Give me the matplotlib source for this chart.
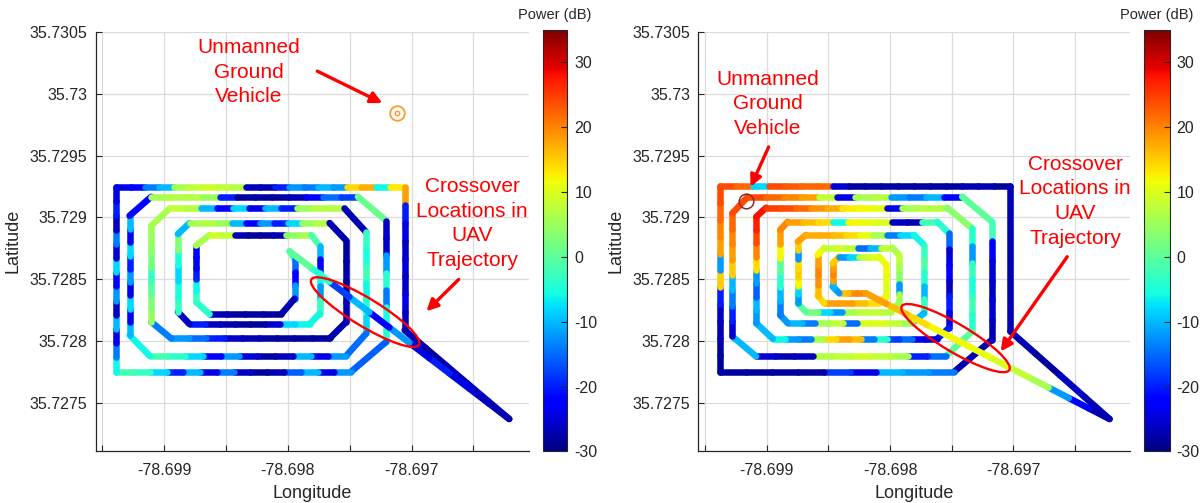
import numpy as np
import matplotlib.pyplot as plt
from matplotlib.collections import LineCollection
from matplotlib.patches import Ellipse
from matplotlib import transforms

plt.rcParams['font.family'] = ['Liberation Sans', 'DejaVu Sans']
plt.rcParams['axes.unicode_minus'] = False

# ---- UAV trajectory, first flight (waypoints in flight order) ----
lon_a = [-78.697987, -78.697946, -78.697946, -78.698054, -78.698634, -78.698742,
         -78.698742, -78.698634, -78.697811, -78.697744, -78.697744, -78.697825,
         -78.698796, -78.698890, -78.698890, -78.698796, -78.697663, -78.697528,
         -78.697528, -78.697663, -78.698944, -78.699106, -78.699106, -78.698957,
         -78.697542, -78.697366, -78.697366, -78.697528, -78.699119, -78.699281,
         -78.699281, -78.699106, -78.697434, -78.697204, -78.697204, -78.697488,
         -78.699389, -78.699389, -78.697056, -78.697056, -78.696210, -78.697987]
lat_a = [35.728726, 35.728665, 35.728343, 35.728217, 35.728217, 35.728316,
         35.728772, 35.728857, 35.728857, 35.728772, 35.728222, 35.728137,
         35.728137, 35.728236, 35.728865, 35.728954, 35.728954, 35.728812,
         35.728155, 35.728021, 35.728021, 35.728155, 35.728932, 35.729072,
         35.729072, 35.728879, 35.728062, 35.727882, 35.727882, 35.728048,
         35.729013, 35.729166, 35.729166, 35.728973, 35.727995, 35.727753,
         35.727753, 35.729246, 35.729246, 35.728088, 35.727370, 35.728726]
# received power (dB) along each leg, in flight direction
pow_a = [[-2], [-15, -22, -12], [-27], [-28, -28, -28, -27], [-4],
         [-3, -6, -20, -24, -22], [6], [9, 8, -27, -28, -28, -27, 4, 6], [-1],
         [-10, -22, -6, -12, -3], [-6], [-6, -8, -25, -28, -28, -27, -26, -20],
         [-26], [-3, -5, -8, -5, 3], [-10], [6, 7, 5, -10, -22, -12, -20, -8, 5, 7],
         [-27], [-28, -28, -28, -27], [-27],
         [-28, -28, -28, -28, -27, -26, -20, -15, -12], [-14],
         [5, 3, 0, -3, 2, 4, 5], [6], [8, 7, -10, -22, -8, -24, -10, -20, 5, 7, 7],
         [-27], [-3, -5, -2, -6, -4, -8], [-15],
         [-12, -24, -10, -26, -28, -25, -12, -22, -8, -4, -2], [-6],
         [-10, -22, -8, -24, -12, -20, -8, -22, -10], [-22],
         [6, 7, 7, 5, -20, -28, -28, -28, -27, -22, -15, -18], [1],
         [-26, -26, -12, -4, -14, -5, -4], [-16],
         [-12, -24, -10, -16, -27, -28, -26, -14, -24, -10, -20, -8, -3, -2],
         [-6, -14, -24, -10, -26, -12, -22, -8, -25, -14, -26, -20, -24],
         [-24, -22, -14, -10, 6, 8, 9, 8, 7, -26, -27, -20, -12, -14, -10, -12, 14, 17, -6, 13],
         [18, -20, -24, -26, -25, -26, -24, -26], [-27, -28, -27, -26, -28],
         [-27, -26, -24, -20, -24, -12, -22, -10, -18, -4, 0]]

# ---- UAV trajectory, second flight ----
lon_b = [-78.698197, -78.698412, -78.698466, -78.698466, -78.698412, -78.698089,
         -78.698035, -78.698035, -78.698089, -78.698534, -78.698588, -78.698588,
         -78.698534, -78.697981, -78.697927, -78.697927, -78.697995, -78.698682,
         -78.698749, -78.698749, -78.698682, -78.697806, -78.697725, -78.697725,
         -78.697819, -78.698830, -78.698892, -78.698892, -78.698830, -78.697617,
         -78.697523, -78.697523, -78.697617, -78.698951, -78.699086, -78.699086,
         -78.699005, -78.697536, -78.697334, -78.697334, -78.697550, -78.699086,
         -78.699280, -78.699280, -78.699154, -78.697415, -78.697173, -78.697173,
         -78.697482, -78.699377, -78.699377, -78.697024, -78.697024, -78.696220,
         -78.698197]
lat_b = [35.728387, 35.728387, 35.728441, 35.728629, 35.728683, 35.728683,
         35.728621, 35.728360, 35.728306, 35.728306, 35.728368, 35.728696,
         35.728755, 35.728755, 35.728696, 35.728306, 35.728234, 35.728234,
         35.728306, 35.728804, 35.728858, 35.728858, 35.728777, 35.728226,
         35.728145, 35.728145, 35.728212, 35.728898, 35.728965, 35.728965,
         35.728871, 35.728105, 35.728019, 35.728019, 35.728145, 35.729005,
         35.729078, 35.729078, 35.728911, 35.728078, 35.727876, 35.727876,
         35.728038, 35.729032, 35.729167, 35.729167, 35.728965, 35.728011,
         35.727750, 35.727750, 35.729255, 35.729255, 35.728078, 35.727370,
         35.728387]
pow_b = [[20, 20, 16], [-12], [-10, 18, 20, 18], [15], [-12, -8, 8, 10], [11],
         [12, 11, 10], [12], [14, 16, 18, 18], [14], [16, 19, 20, 18], [12],
         [8, 9, 8, -15, -10, 8], [6], [8, 6, 4, -12, 6], [5],
         [7, 8, 8, 6, -12, -8, 2], [0], [-12, -8, 12, 15, 14, -12, 15], [18],
         [17, 17, 16, 14, 11, 6, -14, -8], [-6], [-3, -1, -4, -10, -3], [-10],
         [5, 8, 10, 10, -15, 8, 6, -14, -10], [-12], [-14, -10, -4, 0, 12, 18],
         [20], [18, 16, 14, -6, 12, 11, 10, -26, -27, -2], [-4],
         [-15, -25, -22, -26, -20, -24], [-20],
         [-25, -24, -15, -18, -4, -14, 16, 18, 14, 6, -14, -12, -6], [-10],
         [-12, -10, -16, -12, 14, 20, 24, 27], [28],
         [25, 24, 22, 19, 17, 13, 12, 11, -24, 6, 7, 7], [4],
         [-4, -12, -3, -5, -2, -4], [0], [-15, -20, 6, 8, 9, 8, 7, -26, -27, -25],
         [-10], [-25, -20, -14, -10, 15, 18, 20, 22], [24],
         [24, 22, 20, 18, 8, -24, 6, 7, -12, -14, -10, -22], [0],
         [-2, -22, -25, -26, -25, -27], [-27], [-14, -12, -10, -24, -18, -28, -28, -28, -28],
         [-28, -28, -27, -26, -20, 15, -12, 18, 20, 22, 24],
         [24, 22, -8, 24, 23, 22, 22, -25, -28, -28, -28, -28, -28, -28, -28, -27, -27, -28],
         [-27], [-27, -28, -26, -27], [-27, -22, -12, 6, 8, 10, 11, 12, 12, 14, 16, 18]]

# ground vehicle positions
ugv_a = (-78.697118, 35.729843)
ugv_b = (-78.699172, 35.729132)

x_ticks = [-78.6995, -78.699, -78.6985, -78.698, -78.6975, -78.697, -78.6965]
x_labels = ['', '-78.699', '', '-78.698', '', '-78.697', '']
y_ticks = [35.7275, 35.728, 35.7285, 35.729, 35.7295, 35.73, 35.7305]
y_labels = ['35.7275', '35.728', '35.7285', '35.729', '35.7295', '35.73', '35.7305']
cb_ticks = [-30, -20, -10, 0, 10, 20, 30]

# annotation anchors (data coords)
ann_a = {'ugv_txt': (-78.698318, 35.730174), 'ugv_tail': (-78.697763, 35.730182),
         'ugv_head': (-78.697236, 35.729924), 'x_txt': (-78.696509, 35.728951),
         'x_tail': (-78.696619, 35.728498), 'x_head': (-78.696880, 35.728241),
         'ell': (-78.697375, 35.728234)}
ann_b = {'ugv_txt': (-78.698992, 35.729918), 'ugv_tail': (-78.698985, 35.729569),
         'ugv_head': (-78.699131, 35.729247), 'x_txt': (-78.696499, 35.729131),
         'x_tail': (-78.696563, 35.728682), 'x_head': (-78.697103, 35.727916),
         'ell': (-78.697469, 35.728024)}

dark = '#262626'
norm = plt.Normalize(-30, 35)


def draw_track(ax, lon, lat, powers):
    segs, vals = [], []
    for i, leg in enumerate(powers):
        x0, y0, x1, y1 = lon[i], lat[i], lon[i + 1], lat[i + 1]
        n = len(leg)
        for k, v in enumerate(leg):
            t0, t1 = k / n, (k + 1) / n
            segs.append([(x0 + (x1 - x0) * t0, y0 + (y1 - y0) * t0),
                         (x0 + (x1 - x0) * t1, y0 + (y1 - y0) * t1)])
            vals.append(v)
    lc = LineCollection(segs, cmap='jet', norm=norm, linewidths=4.7,
                        capstyle='round', zorder=2)
    lc.set_array(np.array(vals, dtype=float))
    ax.add_collection(lc)
    return lc


def setup_axes(ax):
    ax.set_xlim(-78.699555, -78.69605)
    ax.set_ylim(35.727114, 35.7305)
    ax.set_xticks(x_ticks, x_labels)
    ax.set_yticks(y_ticks, y_labels)
    ax.tick_params(direction='in', length=4, width=0.8, colors=dark,
                   labelsize=11.5, pad=6)
    ax.tick_params(axis='x', pad=9)
    for s in ['top', 'right']:
        ax.spines[s].set_visible(False)
    for s in ['left', 'bottom']:
        ax.spines[s].set_color(dark)
        ax.spines[s].set_linewidth(0.9)
    ax.grid(True, color='0.86', lw=0.9)
    ax.set_axisbelow(True)
    ax.set_xlabel('Longitude', fontsize=13, color=dark, va='center')
    ax.set_ylabel('Latitude', fontsize=13, color=dark, va='center')
    ax.xaxis.set_label_coords(0.5, -0.103)
    ax.yaxis.set_label_coords(-0.19, 0.5)


def annotate(fig, ax, ann, ell_w, ell_h, ell_ang):
    ax.text(*ann['ugv_txt'], 'Unmanned\nGround\nVehicle', color='red', fontsize=15,
            ha='center', va='center', linespacing=1.38, zorder=5)
    ax.text(*ann['x_txt'], 'Crossover\nLocations in\nUAV\nTrajectory', color='red',
            fontsize=15, ha='center', va='center', linespacing=1.38, zorder=5,
            clip_on=False)
    for key in ['ugv', 'x']:
        ax.annotate('', xy=ann[key + '_head'], xytext=ann[key + '_tail'],
                    arrowprops=dict(arrowstyle='-|>', color='red', lw=2.4,
                                    mutation_scale=17, shrinkA=0, shrinkB=0),
                    zorder=5)
    tr = fig.dpi_scale_trans + transforms.ScaledTranslation(*ann['ell'], ax.transData)
    ax.add_patch(Ellipse((0, 0), ell_w, ell_h, angle=ell_ang, transform=tr,
                         fill=False, ec='red', lw=1.7, zorder=6, clip_on=False))


def colorbar(fig, lc, rect):
    cax = fig.add_axes(rect)
    cb = fig.colorbar(lc, cax=cax, ticks=cb_ticks)
    cb.ax.tick_params(direction='in', length=4, width=0.8, colors=dark,
                      labelsize=11.5, pad=5)
    cb.outline.set_linewidth(0.8)
    cb.outline.set_edgecolor(dark)
    cb.ax.text(0.5, 1.035, 'Power (dB)', transform=cb.ax.transAxes, ha='center',
               va='center', fontsize=10.5, color=dark)


fig = plt.figure(figsize=(12.02, 5.03), dpi=100)
ax1 = fig.add_axes([0.0796, 0.104, 0.3605, 0.8328])
ax2 = fig.add_axes([0.5810, 0.104, 0.3595, 0.8328])

lc1 = draw_track(ax1, lon_a, lat_a, pow_a)
lc2 = draw_track(ax2, lon_b, lat_b, pow_b)

for ax in (ax1, ax2):
    setup_axes(ax)

ax1.plot(*ugv_a, 'o', ms=10.5, mfc='none', mec='#ff9a2a', mew=1.3, zorder=4)
ax1.plot(*ugv_a, 'o', ms=3.2, mfc='none', mec='#ff9a2a', mew=1.0, zorder=4)
ax2.plot(*ugv_b, 'o', ms=10.5, mfc='none', mec='#8c2b2b', mew=1.1, zorder=4)

annotate(fig, ax1, ann_a, 1.26, 0.28, -31.3)
annotate(fig, ax2, ann_b, 1.25, 0.28, -30.7)

colorbar(fig, lc1, [0.4515, 0.1027, 0.0205, 0.8376])
colorbar(fig, lc2, [0.9516, 0.1027, 0.0214, 0.8376])

fig.savefig('out.png', dpi=100)
